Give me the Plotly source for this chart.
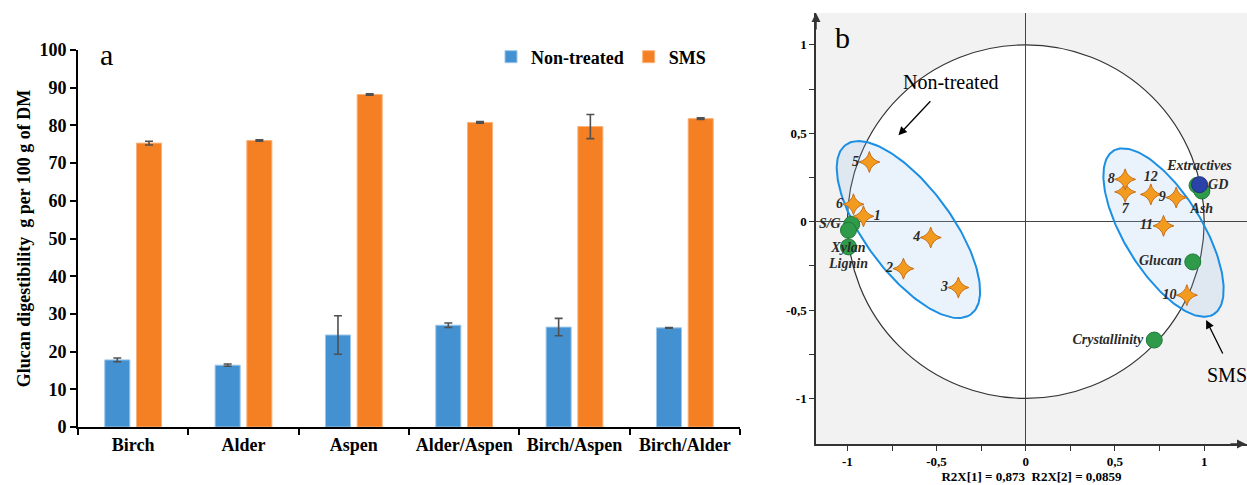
import numpy as np
import plotly.graph_objects as go

# ---------------- Panel a data ----------------
categories = ["Birch", "Alder", "Aspen", "Alder/Aspen", "Birch/Aspen", "Birch/Alder"]
non_treated = [17.8, 16.4, 24.4, 27.0, 26.5, 26.3]
non_treated_err = [0.5, 0.3, 5.1, 0.6, 2.3, 0.1]
sms = [75.3, 76.0, 88.2, 80.8, 79.7, 81.8]
sms_err = [0.5, 0.2, 0.2, 0.2, 3.2, 0.2]
a_yticks = [0, 10, 20, 30, 40, 50, 60, 70, 80, 90, 100]

# ---------------- Panel b data ----------------
sample_ids = ["1", "2", "3", "4", "5", "6", "7", "8", "9", "10", "11", "12"]
sample_x = [-0.910, -0.686, -0.378, -0.533, -0.877, -0.966, 0.557, 0.557, 0.843, 0.903, 0.772, 0.701]
sample_y = [0.030, -0.266, -0.373, -0.090, 0.337, 0.098, 0.168, 0.239, 0.136, -0.416, -0.024, 0.154]
sample_textpos = ["middle right", "middle left", "middle left", "middle left", "middle left",
                  "middle left", "bottom center", "middle left", "middle left", "middle left",
                  "middle left", "top center"]

var_names = ["S/G", "Xylan", "Lignin", "GD", "Ash", "Glucan", "Crystallinity"]
var_x = [-0.976, -0.994, -0.994, 0.960, 0.987, 0.936, 0.720]
var_y = [-0.015, -0.049, -0.143, 0.205, 0.173, -0.228, -0.670]
var_textpos = ["middle left", "bottom center", "bottom center", "middle right",
               "bottom center", "middle left", "middle left"]

resp_names = ["Extractives"]
resp_x = [0.974]
resp_y = [0.209]

b_ticks = [-1.0, -0.75, -0.5, -0.25, 0.0, 0.25, 0.5, 0.75, 1.0]
b_ticktext = ["-1", "", "-0,5", "", "0", "", "0,5", "", "1"]

# ellipse parameters: centre x, centre y, semi-major, semi-minor, angle (deg)
ell_left = (-0.658, -0.045, 0.594, 0.243, -53.8)
ell_right = (0.772, -0.062, 0.541, 0.219, -58.8)

SERIF = "Liberation Serif, Times New Roman, serif"
BLUE = "#4391D1"
ORANGE = "#F58023"

fig = go.Figure()

fig.add_trace(go.Bar(
    x=categories, y=non_treated, name="Non-treated", marker_color=BLUE,
    marker_line=dict(color="#9cc6ea", width=1),
    error_y=dict(type="data", array=non_treated_err, color="#505050", thickness=1.6, width=4),
    xaxis="x", yaxis="y"))
fig.add_trace(go.Bar(
    x=categories, y=sms, name="SMS", marker_color=ORANGE,
    marker_line=dict(color="#f9b27c", width=1),
    error_y=dict(type="data", array=sms_err, color="#505050", thickness=1.6, width=4),
    xaxis="x", yaxis="y"))


def ellipse(params, n=200):
    cx, cy, a, b, ang = params
    t = np.linspace(0, 2 * np.pi, n)
    th = np.deg2rad(ang)
    ex = cx + a * np.cos(t) * np.cos(th) - b * np.sin(t) * np.sin(th)
    ey = cy + a * np.cos(t) * np.sin(th) + b * np.sin(t) * np.cos(th)
    return ex, ey


for p in (ell_left, ell_right):
    ex, ey = ellipse(p)
    fig.add_trace(go.Scatter(
        x=ex, y=ey, mode="lines", fill="toself",
        fillcolor="rgba(150,190,235,0.2)", line=dict(color="#1A8FE3", width=2),
        hoverinfo="skip", showlegend=False, xaxis="x2", yaxis="y2"))

label_font = dict(family=SERIF, size=14, color="#2a2a2a", style="italic", weight="bold")

fig.add_trace(go.Scatter(
    x=var_x, y=var_y, mode="markers+text", text=var_names, textposition=var_textpos,
    textfont=label_font,
    marker=dict(size=16, color="#2F9A4A", line=dict(color="#1F7A36", width=1)),
    showlegend=False, xaxis="x2", yaxis="y2"))
fig.add_trace(go.Scatter(
    x=resp_x, y=resp_y, mode="markers+text", text=resp_names, textposition="top center",
    textfont=label_font,
    marker=dict(size=16, color="#2B43A8", line=dict(color="#1f2f80", width=1)),
    showlegend=False, xaxis="x2", yaxis="y2"))
fig.add_trace(go.Scatter(
    x=sample_x, y=sample_y, mode="markers+text", text=sample_ids, textposition=sample_textpos,
    textfont=label_font,
    marker=dict(symbol="star-diamond", size=15, color="#F39B1E", line=dict(color="#C8701A", width=1)),
    showlegend=False, xaxis="x2", yaxis="y2"))

W, H = 1247, 485
# panel b geometry
bx0, bx1 = 816 / W, 1.0
by0, by1 = (H - 444) / H, (H - 13) / H

shapes = [
    dict(type="rect", xref="x2 domain", yref="y2 domain", x0=0, x1=1, y0=0, y1=1,
         fillcolor="#F2F2F2", line=dict(width=0), layer="below"),
    dict(type="circle", xref="x2", yref="y2", x0=-1, x1=1, y0=-1, y1=1,
         fillcolor="white", line=dict(color="#333333", width=1.2), layer="below"),
]

annotations = [
    dict(text="a", x=106 / W, y=(H - 36) / H, xref="paper", yref="paper", showarrow=False,
         xanchor="center", yanchor="top",
         font=dict(family=SERIF, size=30, color="black")),
    dict(text="b", x=842 / W, y=(H - 19) / H, xref="paper", yref="paper", showarrow=False,
         xanchor="center", yanchor="top",
         font=dict(family=SERIF, size=30, color="black")),
    dict(text="Non-treated", x=-0.42, y=0.79, xref="x2", yref="y2", showarrow=False,
         font=dict(family=SERIF, size=20, color="black")),
    dict(text="", x=-0.714, y=0.488, ax=-0.527, ay=0.689, xref="x2", yref="y2",
         axref="x2", ayref="y2", showarrow=True, arrowhead=2, arrowsize=1.3,
         arrowwidth=1.3, arrowcolor="black"),
    dict(text="SMS", x=1.13, y=-0.868, xref="x2", yref="y2", showarrow=False,
         font=dict(family=SERIF, size=20, color="black")),
    dict(text="", x=1.011, y=-0.557, ax=1.108, ay=-0.755, xref="x2", yref="y2",
         axref="x2", ayref="y2", showarrow=True, arrowhead=2, arrowsize=1.3,
         arrowwidth=1.3, arrowcolor="black"),
    # axis arrows panel b
    dict(text="", x=bx0, y=by1, xref="paper", yref="paper", ax=0, ay=18,
         showarrow=True, arrowhead=2, arrowsize=1.2, arrowwidth=1.5, arrowcolor="#333"),
    dict(text="", x=bx1, y=by0, xref="paper", yref="paper", ax=-18, ay=0,
         showarrow=True, arrowhead=2, arrowsize=1.2, arrowwidth=1.5, arrowcolor="#333"),
]

tick_font_a = dict(family=SERIF, size=18, color="black", weight="bold")
tick_font_b = dict(family=SERIF, size=13, color="black", weight="bold")

fig.update_layout(
    width=W, height=H, margin=dict(l=0, r=0, t=0, b=0),
    paper_bgcolor="white", plot_bgcolor="white",
    barmode="group", bargap=0.425, bargroupgap=0.21,
    showlegend=True,
    legend=dict(orientation="h", x=491 / W, y=(H - 57) / H, xanchor="left", yanchor="middle",
                font=dict(family=SERIF, size=18, color="black", weight="bold"),
                bgcolor="rgba(0,0,0,0)"),
    xaxis=dict(domain=[78 / W, 740 / W], anchor="y", type="category", range=[-0.5, 5.5],
               showline=True, linecolor="black", linewidth=2, ticks="outside", ticklen=6,
               tickwidth=1.5, tickcolor="black", tickson="boundaries", showgrid=False,
               tickfont=dict(family=SERIF, size=18, color="black", weight="bold"),
               automargin=False),
    yaxis=dict(domain=[(H - 427) / H, (H - 50) / H], anchor="x", range=[0, 100],
               tickvals=a_yticks, showline=True, linecolor="black", linewidth=2,
               ticks="outside", ticklen=6, tickwidth=1.5, tickcolor="black",
               showgrid=False, zeroline=False, tickfont=tick_font_a, automargin=False,
               title=dict(text="Glucan digestibility  g per 100 g of DM", standoff=4,
                          font=dict(family=SERIF, size=18, color="black", weight="bold"))),
    xaxis2=dict(domain=[bx0, bx1], anchor="y2", range=[-1.176, 1.24],
                tickvals=b_ticks, ticktext=b_ticktext, showline=True, linecolor="#333",
                linewidth=1.5, ticks="outside", ticklen=5, tickwidth=1.2, tickcolor="#333",
                showgrid=False, zeroline=True, zerolinecolor="#444", zerolinewidth=1.2,
                tickfont=tick_font_b, automargin=False,
                title=dict(text="R2X[1] = 0,873  R2X[2] = 0,0859", standoff=0,
                           font=dict(family=SERIF, size=13, color="black", weight="bold"))),
    yaxis2=dict(domain=[by0, by1], anchor="x2", range=[-1.258, 1.18],
                tickvals=b_ticks, ticktext=b_ticktext, showline=True, linecolor="#333",
                linewidth=1.5, ticks="outside", ticklen=5, tickwidth=1.2, tickcolor="#333",
                showgrid=False, zeroline=True, zerolinecolor="#444", zerolinewidth=1.2,
                tickfont=tick_font_b, automargin=False),
    shapes=shapes,
    annotations=annotations,
)

fig.write_html("out.html")
